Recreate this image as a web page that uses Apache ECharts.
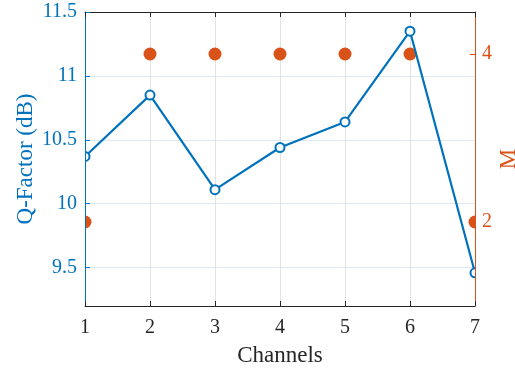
<!DOCTYPE html>
<html>
<head>
<meta charset="utf-8">
<script src="https://cdn.jsdelivr.net/npm/echarts@6/dist/echarts.min.js"></script>
<style>
  html, body { margin: 0; padding: 0; background: #fff; }
  #chart { width: 515px; height: 369px; }
</style>
</head>
<body>
<div id="chart"></div>
<script>
// Channel index on the x axis
const channels = [1, 2, 3, 4, 5, 6, 7];
// Q-Factor per channel (dB), left axis
const qFactor = [10.37, 10.85, 10.11, 10.44, 10.64, 11.35, 9.46];
// Modulation order M per channel, right axis
const mOrder = [2, 4, 4, 4, 4, 4, 2];
// Tick values shown on each y axis
const qTicks = [9.5, 10, 10.5, 11, 11.5];
const mTicks = [2, 4];

const BLUE = '#0072BD';
const ORANGE = '#D95319';
const DARK = '#262626';
const FONT = 'Liberation Serif';

const G = { left: 85, right: 40, top: 12, bottom: 63 };

const chart = echarts.init(document.getElementById('chart'), null, { renderer: 'canvas' });

// White frame around the plot box that trims markers spilling past the axes.
// It sits on its own layer above the data; the axes are drawn on a layer above it.
function renderFrame(params, api) {
  const w = api.getWidth(), h = api.getHeight();
  const rect = (x, y, rw, rh) => ({
    type: 'rect', shape: { x: x, y: y, width: rw, height: rh },
    style: { fill: '#ffffff' }, silent: true
  });
  return {
    type: 'group',
    children: [
      rect(0, 0, G.left, h),
      rect(w - G.right, 0, G.right, h),
      rect(0, 0, w, G.top),
      rect(0, h - G.bottom, w, G.bottom)
    ]
  };
}

chart.setOption({
  animation: false,
  textStyle: { fontFamily: FONT },
  grid: { left: G.left, right: G.right, top: G.top, bottom: G.bottom,
          containLabel: false, outerBoundsMode: 'none' },
  xAxis: [
    { // vertical grid lines only, behind data
      type: 'value', min: 1, max: 7, interval: 1, position: 'bottom', z: 0,
      axisLine: { show: false }, axisTick: { show: false }, axisLabel: { show: false },
      splitLine: { show: true, lineStyle: { color: '#e3e3e3', width: 1 } }
    },
    { // bottom axis with labels
      type: 'value', min: 1, max: 7, interval: 1, position: 'bottom', zlevel: 2, z: 10,
      axisLine: { show: true, lineStyle: { color: DARK, width: 1 } },
      axisTick: { show: true, inside: true, length: 5, lineStyle: { color: DARK } },
      axisLabel: { show: true, color: DARK, fontSize: 20, fontFamily: FONT, margin: 12 },
      splitLine: { show: false },
      name: 'Channels', nameLocation: 'middle', nameGap: 38, nameMoveOverlap: false,
      nameTextStyle: { color: DARK, fontSize: 23, fontFamily: FONT }
    },
    { // top box edge
      type: 'value', min: 1, max: 7, interval: 1, position: 'top', zlevel: 2, z: 10,
      axisLine: { show: true, lineStyle: { color: DARK, width: 1 } },
      axisTick: { show: true, inside: true, length: 5, lineStyle: { color: DARK } },
      axisLabel: { show: false }, splitLine: { show: false }
    }
  ],
  yAxis: [
    { // horizontal grid lines for the Q-Factor scale, behind data
      type: 'value', min: 9.2, max: 11.5, position: 'left', z: 0,
      axisLine: { show: false },
      axisTick: { show: false, customValues: qTicks },
      axisLabel: { show: false, customValues: qTicks },
      splitLine: { show: true, lineStyle: { color: '#d9eaf5', width: 1 } }
    },
    { // right axis: M
      type: 'value', min: 1, max: 4.5, position: 'right', zlevel: 2, z: 10,
      axisLine: { show: true, lineStyle: { color: ORANGE, width: 1 } },
      axisTick: { show: true, inside: true, length: 5, customValues: mTicks, lineStyle: { color: ORANGE } },
      axisLabel: { show: true, customValues: mTicks, color: ORANGE, fontSize: 20, fontFamily: FONT, margin: 7 },
      splitLine: { show: false },
      name: 'M', nameLocation: 'middle', nameGap: 22, nameRotate: 90, nameMoveOverlap: false,
      nameTextStyle: { color: ORANGE, fontSize: 23, fontFamily: FONT }
    },
    { // left axis: Q-Factor line, ticks and labels
      type: 'value', min: 9.2, max: 11.5, position: 'left', zlevel: 2, z: 10,
      axisLine: { show: true, lineStyle: { color: BLUE, width: 1 } },
      axisTick: { show: true, inside: true, length: 5, customValues: qTicks, lineStyle: { color: BLUE } },
      axisLabel: { show: true, customValues: qTicks, color: BLUE, fontSize: 20, fontFamily: FONT, margin: 8 },
      splitLine: { show: false },
      name: 'Q-Factor (dB)', nameLocation: 'middle', nameGap: 48, nameRotate: 90, nameMoveOverlap: false,
      nameTextStyle: { color: BLUE, fontSize: 23, fontFamily: FONT }
    }
  ],
  series: [
    {
      name: 'Q-Factor', type: 'line', xAxisIndex: 0, yAxisIndex: 0, z: 3,
      data: channels.map((c, i) => [c, qFactor[i]]),
      clip: false,
      symbol: 'emptyCircle', symbolSize: 9,
      lineStyle: { color: BLUE, width: 2.2 },
      itemStyle: { color: BLUE, borderColor: BLUE, borderWidth: 2 }
    },
    {
      name: 'M', type: 'scatter', xAxisIndex: 0, yAxisIndex: 1, z: 2,
      data: channels.map((c, i) => [c, mOrder[i]]),
      clip: false,
      symbol: 'circle', symbolSize: 13,
      itemStyle: { color: ORANGE, opacity: 1 }
    },
    {
      name: 'frame', type: 'custom', coordinateSystem: 'none',
      zlevel: 1, z: 5, silent: true,
      data: [0],
      renderItem: renderFrame
    }
  ]
});
</script>
</body>
</html>
